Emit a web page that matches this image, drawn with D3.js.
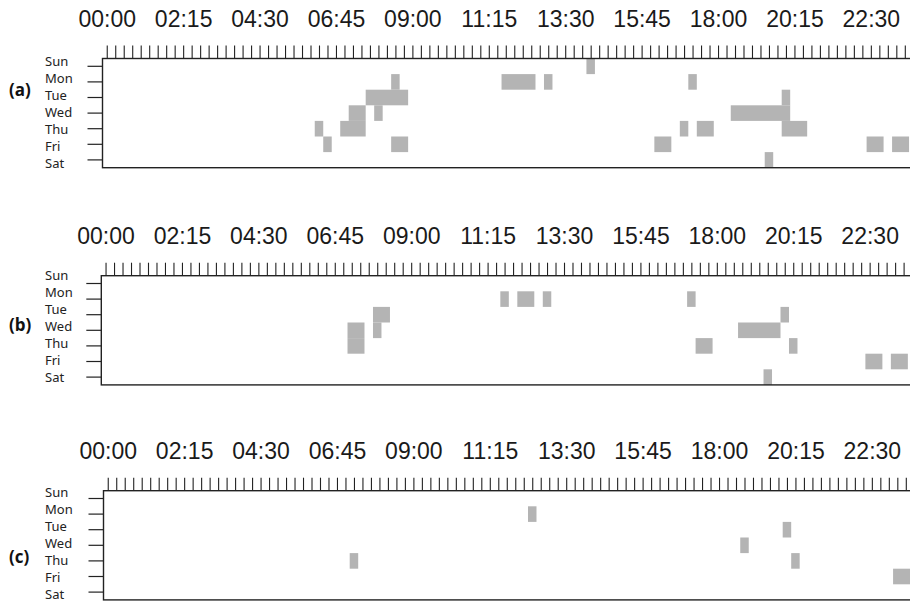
<!DOCTYPE html>
<html>
<head>
<meta charset="utf-8">
<script src="https://cdn.jsdelivr.net/npm/d3@7"></script>
<style>
  body { margin: 0; background: white; }
  .time_label { font-family: "Liberation Sans", Arial, sans-serif; font-size: 23px; fill: #1a1a1a; }
  .day_label { font-family: "Noto Sans", "Open Sans", sans-serif; font-size: 13px; fill: #222; }
  .tag { font-family: "Open Sans", "Noto Sans", sans-serif; font-size: 17px; font-weight: bold; fill: #111; }
</style>
</head>
<body>
<script>
// days on the y axis, top to bottom
var days = ["Sun", "Mon", "Tue", "Wed", "Thu", "Fri", "Sat"];

// one slot = 15 minutes, 96 slots in a day
var nSlots = 96;
var timeLabels = ["00:00", "02:15", "04:30", "06:45", "09:00", "11:15",
                  "13:30", "15:45", "18:00", "20:15", "22:30"];

// gray runs per panel: [day index, first slot, number of slots]
var cellsA = [
  [0, 57, 1],
  [1, 34, 1], [1, 47, 4], [1, 52, 1], [1, 69, 1],
  [2, 31, 5], [2, 80, 1],
  [3, 29, 2], [3, 32, 1], [3, 74, 7],
  [4, 25, 1], [4, 28, 3], [4, 68, 1], [4, 70, 2], [4, 80, 3],
  [5, 26, 1], [5, 34, 2], [5, 65, 2], [5, 90, 2], [5, 93, 2],
  [6, 78, 1]
];

var cellsB = [
  [1, 47, 1], [1, 49, 2], [1, 52, 1], [1, 69, 1],
  [2, 32, 2], [2, 80, 1],
  [3, 29, 2], [3, 32, 1], [3, 75, 5],
  [4, 29, 2], [4, 70, 2], [4, 81, 1],
  [5, 90, 2], [5, 93, 2],
  [6, 78, 1]
];

var cellsC = [
  [1, 50, 1],
  [2, 80, 1],
  [3, 75, 1],
  [4, 29, 1], [4, 81, 1],
  [5, 93, 2]
];

window.onload = function() {
  var svg = d3.select("body")
              .append("svg")
              .attr("width", 910)
              .attr("height", 603);

  draw_panel(svg, cellsA, "(a)", {left: 102.5, top: 58.5, dayDy: 3, tagY: 90});
  draw_panel(svg, cellsB, "(b)", {left: 101.3, top: 275.7, dayDy: 0, tagY: 325});
  draw_panel(svg, cellsC, "(c)", {left: 103.5, top: 490.7, dayDy: 1.5, tagY: 557.5});
}

function draw_panel(svg, cells, tag, pos) {
  var slotW = 8.49;
  var rowH = 15.6;

  var g = svg.append("g");

  var xScale = d3.scaleLinear()
                 .domain([0, nSlots])
                 .range([pos.left, pos.left + nSlots * slotW]);

  var yScale = d3.scaleBand()
                 .domain(days)
                 .range([pos.top, pos.top + days.length * rowH]);

  // gray cells
  g.selectAll("rect.cell")
   .data(cells)
   .enter().append("rect")
    .attr("class", "cell")
    .attr("x", function(d) { return xScale(d[1]); })
    .attr("y", function(d) { return yScale(days[d[0]]); })
    .attr("width", function(d) { return xScale(d[1] + d[2]) - xScale(d[1]); })
    .attr("height", yScale.bandwidth())
    .style("fill", "#b4b4b4");

  // top axis: a tick every slot, label every 9 slots
  var ticks = d3.range(nSlots).map(function(i) { return i + 0.5; });
  var topAxis = d3.axisTop(xScale)
                  .tickValues(ticks)
                  .tickSize(13)
                  .tickSizeOuter(0)
                  .tickPadding(19)
                  .tickFormat(function(d, i) {
                    return i % 9 == 0 ? timeLabels[i / 9] : "";
                  });

  var ax = g.append("g")
            .attr("transform", "translate(0," + pos.top + ")")
            .call(topAxis);
  ax.select(".domain").remove();
  ax.selectAll("line").style("stroke", "#222").style("stroke-width", 1.1);
  ax.selectAll("text").attr("class", "time_label").attr("font-family", null).attr("font-size", null);

  // left ticks at row centres
  var leftAxis = d3.axisLeft(yScale)
                   .tickSize(15)
                   .tickSizeOuter(0)
                   .tickFormat("");
  var ay = g.append("g")
            .attr("transform", "translate(" + pos.left + ",0)")
            .call(leftAxis);
  ay.select(".domain").remove();
  ay.selectAll("line").style("stroke", "#222").style("stroke-width", 1.2);

  // day names (spaced a bit wider than the ticks, as in the original)
  g.selectAll("text.day_label")
   .data(days)
   .enter().append("text")
    .attr("class", "day_label")
    .attr("x", 45)
    .attr("y", function(d, i) { return pos.top + pos.dayDy + i * 17.0; })
    .attr("dy", "0.35em")
    .text(function(d) { return d; });

  // frame
  g.append("rect")
   .attr("x", pos.left)
   .attr("y", pos.top)
   .attr("width", nSlots * slotW)
   .attr("height", days.length * rowH)
   .style("fill", "none")
   .style("stroke", "#222")
   .style("stroke-width", 1.4);

  // panel tag
  g.append("text")
   .attr("class", "tag")
   .attr("x", 9)
   .attr("y", pos.tagY)
   .attr("dy", "0.35em")
   .text(tag);
}
</script>
</body>
</html>
